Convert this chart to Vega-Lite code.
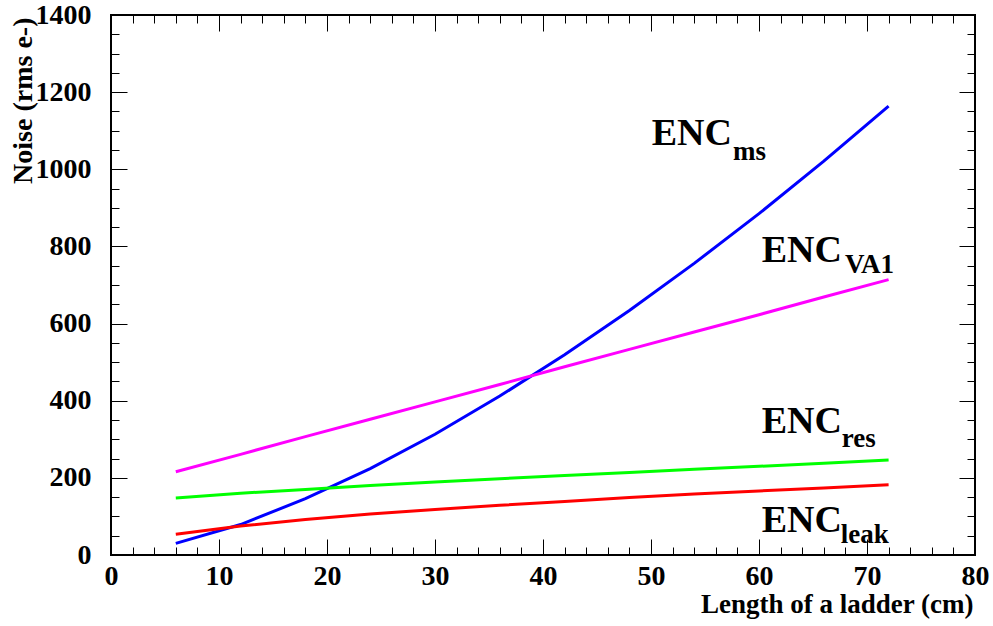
{
  "$schema": "https://vega.github.io/schema/vega-lite/v6.json",
  "width": 864,
  "height": 540,
  "autosize": "none",
  "padding": {"left": 111, "top": 15, "right": 18, "bottom": 71},
  "background": "white",
  "config": {
    "view": {"stroke": "black", "strokeWidth": 2},
    "font": "Liberation Serif",
    "axis": {
      "domain": false,
      "grid": false,
      "tickColor": "black",
      "tickWidth": 1,
      "labelFont": "Liberation Serif",
      "labelFontWeight": "bold",
      "labelFontSize": 28,
      "labelColor": "black",
      "titleFont": "Liberation Serif",
      "titleFontWeight": "bold",
      "titleFontSize": 27,
      "titleColor": "black"
    }
  },
  "datasets": {
    "curves": [
      {"L": 6, "noise": 30, "series": "ms"},
      {"L": 12, "noise": 79, "series": "ms"},
      {"L": 18, "noise": 146, "series": "ms"},
      {"L": 24, "noise": 224, "series": "ms"},
      {"L": 30, "noise": 313, "series": "ms"},
      {"L": 36, "noise": 412, "series": "ms"},
      {"L": 42, "noise": 519, "series": "ms"},
      {"L": 48, "noise": 634, "series": "ms"},
      {"L": 54, "noise": 756, "series": "ms"},
      {"L": 60, "noise": 885, "series": "ms"},
      {"L": 66, "noise": 1021, "series": "ms"},
      {"L": 72, "noise": 1164, "series": "ms"},
      {"L": 6, "noise": 216, "series": "VA1"},
      {"L": 12, "noise": 261, "series": "VA1"},
      {"L": 18, "noise": 307, "series": "VA1"},
      {"L": 24, "noise": 352, "series": "VA1"},
      {"L": 30, "noise": 397, "series": "VA1"},
      {"L": 36, "noise": 442, "series": "VA1"},
      {"L": 42, "noise": 488, "series": "VA1"},
      {"L": 48, "noise": 533, "series": "VA1"},
      {"L": 54, "noise": 578, "series": "VA1"},
      {"L": 60, "noise": 623, "series": "VA1"},
      {"L": 66, "noise": 669, "series": "VA1"},
      {"L": 72, "noise": 714, "series": "VA1"},
      {"L": 6, "noise": 148, "series": "res"},
      {"L": 12, "noise": 160, "series": "res"},
      {"L": 18, "noise": 170, "series": "res"},
      {"L": 24, "noise": 180, "series": "res"},
      {"L": 30, "noise": 189, "series": "res"},
      {"L": 36, "noise": 198, "series": "res"},
      {"L": 42, "noise": 206, "series": "res"},
      {"L": 48, "noise": 214, "series": "res"},
      {"L": 54, "noise": 222, "series": "res"},
      {"L": 60, "noise": 230, "series": "res"},
      {"L": 66, "noise": 238, "series": "res"},
      {"L": 72, "noise": 246, "series": "res"},
      {"L": 6, "noise": 54, "series": "leak"},
      {"L": 12, "noise": 75, "series": "leak"},
      {"L": 18, "noise": 92, "series": "leak"},
      {"L": 24, "noise": 106, "series": "leak"},
      {"L": 30, "noise": 118, "series": "leak"},
      {"L": 36, "noise": 129, "series": "leak"},
      {"L": 42, "noise": 139, "series": "leak"},
      {"L": 48, "noise": 149, "series": "leak"},
      {"L": 54, "noise": 158, "series": "leak"},
      {"L": 60, "noise": 166, "series": "leak"},
      {"L": 66, "noise": 174, "series": "leak"},
      {"L": 72, "noise": 182, "series": "leak"}
    ],
    "labels": [
      {"x": 50.06, "y": 1063, "main": "ENC", "sx": 57.6, "sy": 1024, "sub": "ms"},
      {"x": 60.25, "y": 760, "main": "ENC", "sx": 67.96, "sy": 731, "sub": "VA1"},
      {"x": 60.25, "y": 316, "main": "ENC", "sx": 67.66, "sy": 281, "sub": "res"},
      {"x": 60.25, "y": 60, "main": "ENC", "sx": 67.56, "sy": 31, "sub": "leak"}
    ]
  },
  "layer": [
    {
      "data": {"name": "curves"},
      "mark": {"type": "line", "strokeWidth": 3, "clip": true},
      "encoding": {
        "x": {
          "field": "L", "type": "quantitative",
          "scale": {"domain": [0, 80], "nice": false, "zero": false},
          "axis": {
            "orient": "bottom",
            "title": "Length of a ladder (cm)",
            "titleAnchor": "end",
            "titleAlign": "right",
            "titleX": 862,
            "titleY": 57,
            "titleBaseline": "alphabetic",
            "values": [0,2,4,6,8,10,12,14,16,18,20,22,24,26,28,30,32,34,36,38,40,42,44,46,48,50,52,54,56,58,60,62,64,66,68,70,72,74,76,78,80],
            "tickSize": {"condition": {"test": "datum.value % 10 === 0", "value": -16}, "value": -8},
            "labelExpr": "datum.value % 10 === 0 ? datum.label : ''",
            "format": "d",
            "labelPadding": 23,
            "labelFlush": false,
            "labelOverlap": false
          }
        },
        "y": {
          "field": "noise", "type": "quantitative",
          "scale": {"domain": [0, 1400], "nice": false},
          "axis": {
            "orient": "left",
            "title": "Noise (rms e-)",
            "titleAnchor": "end",
            "titleAngle": -90,
            "titleAlign": "right",
            "titleBaseline": "alphabetic",
            "titleFontSize": 28,
            "titleX": -80,
            "titleY": 2,
            "values": [0,50,100,150,200,250,300,350,400,450,500,550,600,650,700,750,800,850,900,950,1000,1050,1100,1150,1200,1250,1300,1350,1400],
            "tickSize": {"condition": {"test": "datum.value % 200 === 0", "value": -16}, "value": -8},
            "labelExpr": "datum.value % 200 === 0 ? datum.label : ''",
            "format": "d",
            "labelPadding": 36,
            "labelFlush": false,
            "labelOverlap": false
          }
        },
        "color": {
          "field": "series", "type": "nominal",
          "scale": {"domain": ["ms", "VA1", "res", "leak"], "range": ["#0000ff", "#ff00ff", "#00ff00", "#ff0000"]},
          "legend": null
        }
      }
    },
    {
      "data": {"name": "curves"},
      "mark": {"type": "line", "opacity": 0},
      "encoding": {
        "x": {
          "field": "L", "type": "quantitative",
          "axis": {
            "orient": "top",
            "title": null,
            "labels": false,
            "values": [0,2,4,6,8,10,12,14,16,18,20,22,24,26,28,30,32,34,36,38,40,42,44,46,48,50,52,54,56,58,60,62,64,66,68,70,72,74,76,78,80],
            "tickSize": {"condition": {"test": "datum.value % 10 === 0", "value": -16}, "value": -8}
          }
        },
        "y": {
          "field": "noise", "type": "quantitative",
          "axis": {
            "orient": "right",
            "title": null,
            "labels": false,
            "values": [0,50,100,150,200,250,300,350,400,450,500,550,600,650,700,750,800,850,900,950,1000,1050,1100,1150,1200,1250,1300,1350,1400],
            "tickSize": {"condition": {"test": "datum.value % 200 === 0", "value": -16}, "value": -8}
          }
        },
        "detail": {"field": "series"}
      }
    },
    {
      "data": {"name": "labels"},
      "mark": {"type": "text", "font": "Liberation Serif", "fontWeight": "bold", "fontSize": 38, "align": "left", "baseline": "alphabetic", "color": "black"},
      "encoding": {
        "x": {"field": "x", "type": "quantitative", "axis": null},
        "y": {"field": "y", "type": "quantitative", "axis": null},
        "text": {"field": "main"}
      }
    },
    {
      "data": {"name": "labels"},
      "mark": {"type": "text", "font": "Liberation Serif", "fontWeight": "bold", "fontSize": 27, "align": "left", "baseline": "alphabetic", "color": "black"},
      "encoding": {
        "x": {"field": "sx", "type": "quantitative", "axis": null},
        "y": {"field": "sy", "type": "quantitative", "axis": null},
        "text": {"field": "sub"}
      }
    }
  ],
  "resolve": {"axis": {"x": "independent", "y": "independent"}}
}
